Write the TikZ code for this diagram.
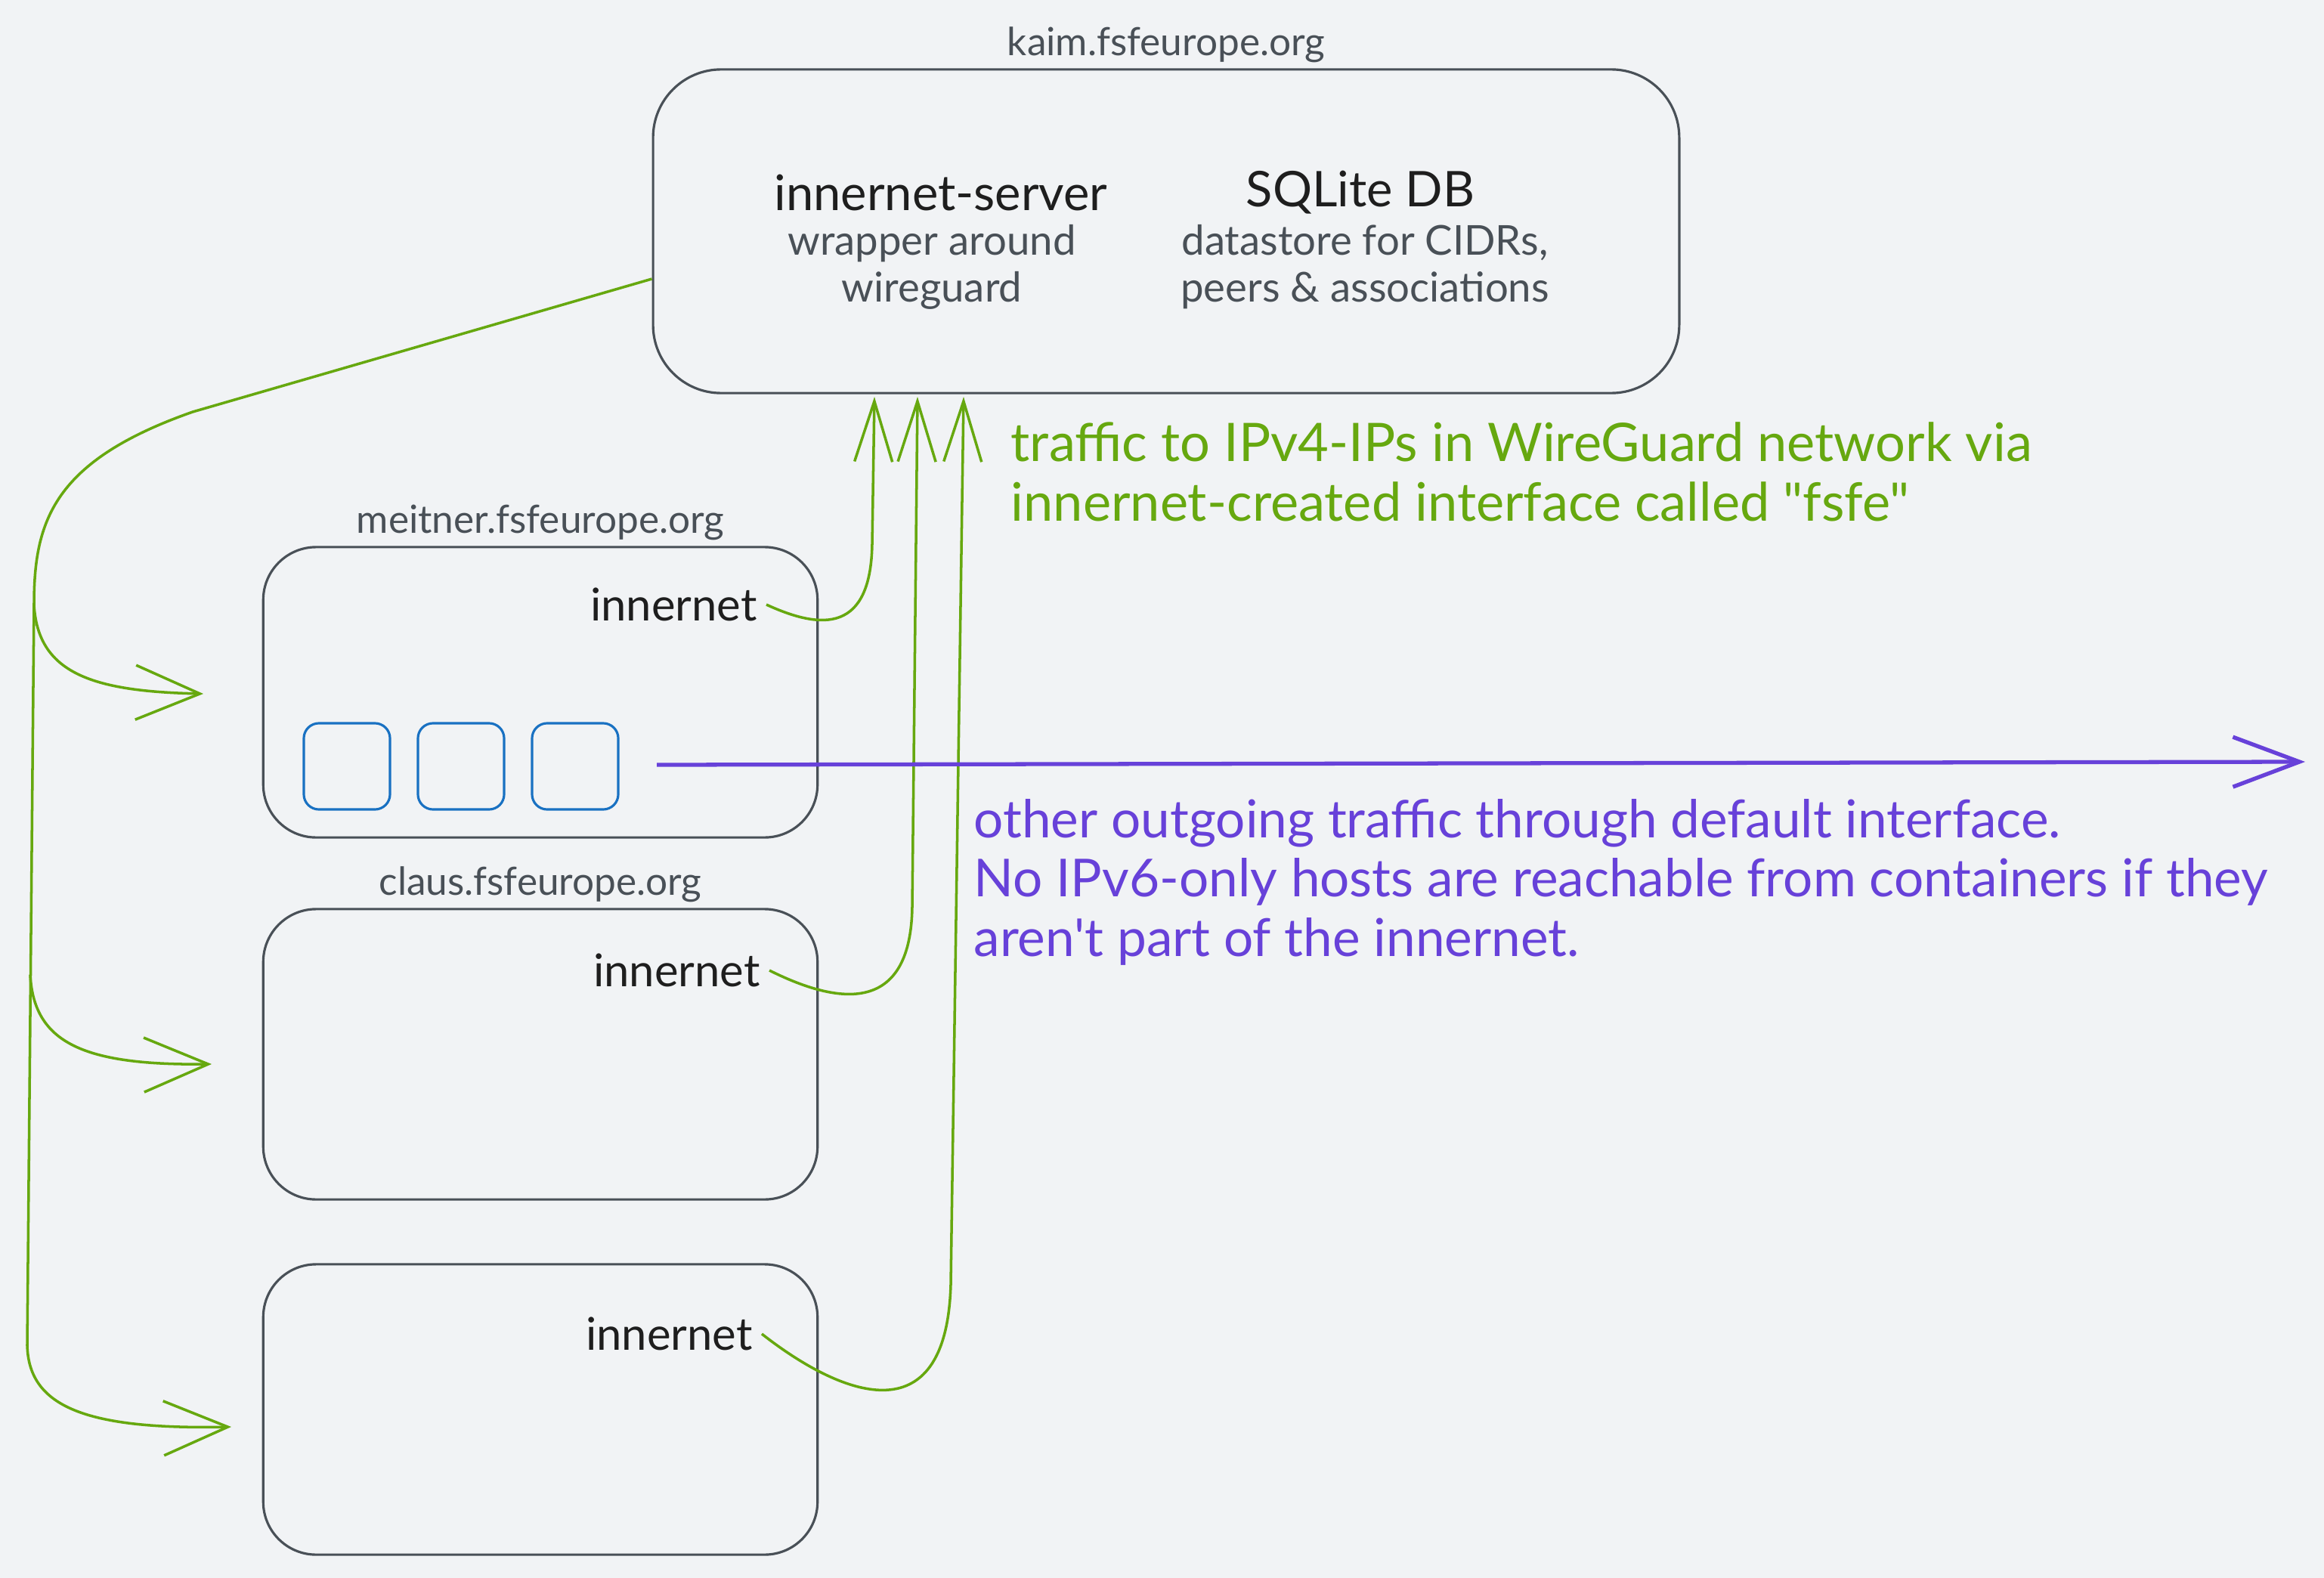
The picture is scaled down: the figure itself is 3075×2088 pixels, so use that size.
\documentclass[tikz,border=0pt]{standalone}
\usepackage{fontspec}
\setmainfont{Lato}[Ligatures=TeXOff]
\usepackage{tikz}
\usetikzlibrary{arrows.meta,positioning}

\begin{document}
\begin{tikzpicture}[
    x=0.01cm, y=-0.01cm,
    every node/.style={
        font=\fontsize{14}{17}\selectfont,
        text=inkblack
    },
    hostbox/.style={
        draw=boxgray,
        line width=0.9pt,
        rectangle,
        rounded corners=0.7cm,
        minimum width=7.33cm,
        minimum height=3.84cm,
        inner sep=0pt
    },
    serverbox/.style={
        hostbox,
        rounded corners=0.9cm,
        minimum width=13.57cm,
        minimum height=4.28cm
    },
    ctbox/.style={
        draw=ctblue,
        line width=0.9pt,
        rounded corners=0.2cm,
        minimum width=1.14cm,
        minimum height=1.14cm,
        inner sep=0pt
    },
    hostname/.style={font=\fontsize{14.6}{17}\selectfont, text=labelgray},
    boxtitle/.style={font=\fontsize{18.5}{22}\selectfont, text=inkblack},
    boxinfo/.style={font=\fontsize{15.5}{17.6}\selectfont, text=labelgray, align=center},
    iface/.style={font=\fontsize{17}{20}\selectfont, text=inkblack, anchor=east},
    wgline/.style={draw=wggreen, line width=1pt},
    wgarrow/.style={wgline, -{Straight Barb[length=0.85cm, width=0.72cm]}},
    uparrow/.style={wgline, -{Straight Barb[length=0.8cm, width=0.5cm]}},
    defarrow/.style={draw=outpurple, line width=1.5pt, -{Straight Barb[length=0.88cm, width=0.66cm]}}
]

%--- Color Definitions ---%
\definecolor{bgcolor}{RGB}{241,243,245}
\definecolor{boxgray}{RGB}{73,80,87}
\definecolor{labelgray}{RGB}{73,80,87}
\definecolor{inkblack}{RGB}{30,30,30}
\definecolor{wggreen}{RGB}{102,168,15}
\definecolor{outpurple}{RGB}{103,65,217}
\definecolor{ctblue}{RGB}{25,113,194}

\fill[bgcolor] (0,0) rectangle (3075,2088);
\useasboundingbox (0,0) rectangle (3075,2088);

%-----------------------------------------------
% SERVER: kaim
%-----------------------------------------------
\node[serverbox] (kaim) at (1543,306) {};
\node[hostname, above=-0.05cm of kaim] (kaimname) {kaim.fsfeurope.org};

\node[boxtitle] (server) at (1245,255) {innernet-server};
\node[boxinfo] (serverinfo) at (1233,353) {wrapper around\\wireguard};

\node[boxtitle] (db) at (1800,255) {SQLite DB};
\node[boxinfo] (dbinfo) at (1806,353) {datastore for CIDRs,\\peers \& associations};

%-----------------------------------------------
% HOSTS
%-----------------------------------------------
\node[hostbox] (meitner) at (715,916) {};
\node[hostname, above=-0.05cm of meitner] (meitnername) {meitner.fsfeurope.org};

\node[hostbox] (claus) at (715,1395) {};
\node[hostname, above=-0.05cm of claus] (clausname) {claus.fsfeurope.org};

\node[hostbox] (thirdhost) at (715,1865) {};

% innernet clients
\node[iface] (net1) at (1014,800) {innernet};
\node[iface] (net2) at (1018,1284) {innernet};
\node[iface] (net3) at (1008,1765) {innernet};

% containers on meitner
\node[ctbox] (ct1) at (459,1014) {};
\node[ctbox] (ct2) at (610,1014) {};
\node[ctbox] (ct3) at (761,1014) {};

%-----------------------------------------------
% COORDINATES
%-----------------------------------------------
\coordinate (kaimout) at ([yshift=-0.63cm]kaim.west);
\coordinate (split1) at (45,800);
\coordinate (split2) at (40,1290);
\coordinate (toMeitner) at (269,918);
\coordinate (toClaus) at (280,1408);
\coordinate (toThird) at (306,1888);

\coordinate (up1) at (1157,525);
\coordinate (up2) at (1214,525);
\coordinate (up3) at (1275,525);

\coordinate (defsrc) at (869,1012);
\coordinate (defdst) at (3050,1008);

%-----------------------------------------------
% ARROWS
%-----------------------------------------------
% kaim -> hosts
\draw[wgarrow] (kaimout) -- (255,545)
    .. controls (70,610) and (45,690) .. (split1)
    -- (36,1780) .. controls (38,1860) and (110,1892) .. (toThird);
\draw[wgarrow] (split1) .. controls (50,890) and (120,915) .. (toMeitner);
\draw[wgarrow] (split2) .. controls (45,1380) and (110,1410) .. (toClaus);

% hosts -> kaim
\draw[uparrow] (net1.east) .. controls (1090,835) and (1152,835) .. (1154,720) -- (up1);
\draw[uparrow] (net2.east) .. controls (1120,1335) and (1205,1335) .. (1207,1200) -- (up2);
\draw[uparrow] (net3.east) .. controls (1110,1845) and (1252,1905) .. (1258,1700) -- (up3);

% default interface
\draw[defarrow] (defsrc) -- (defdst);

%-----------------------------------------------
% NOTES
%-----------------------------------------------
\node[font=\fontsize{20}{22.5}\selectfont, text=wggreen, align=left,
      anchor=west, inner sep=0pt] (wgnote) at (1337,624)
    {traffic to IPv4-IPs in WireGuard network via\\
     innernet-created interface called "fsfe"};

\node[font=\fontsize{19.7}{22.3}\selectfont, text=outpurple, align=left,
      anchor=west, inner sep=0pt] (defnote) at (1288,1167)
    {other outgoing traffic through default interface.\\
     No IPv6-only hosts are reachable from containers if they\\
     aren't part of the innernet.};

\end{tikzpicture}
\end{document}
